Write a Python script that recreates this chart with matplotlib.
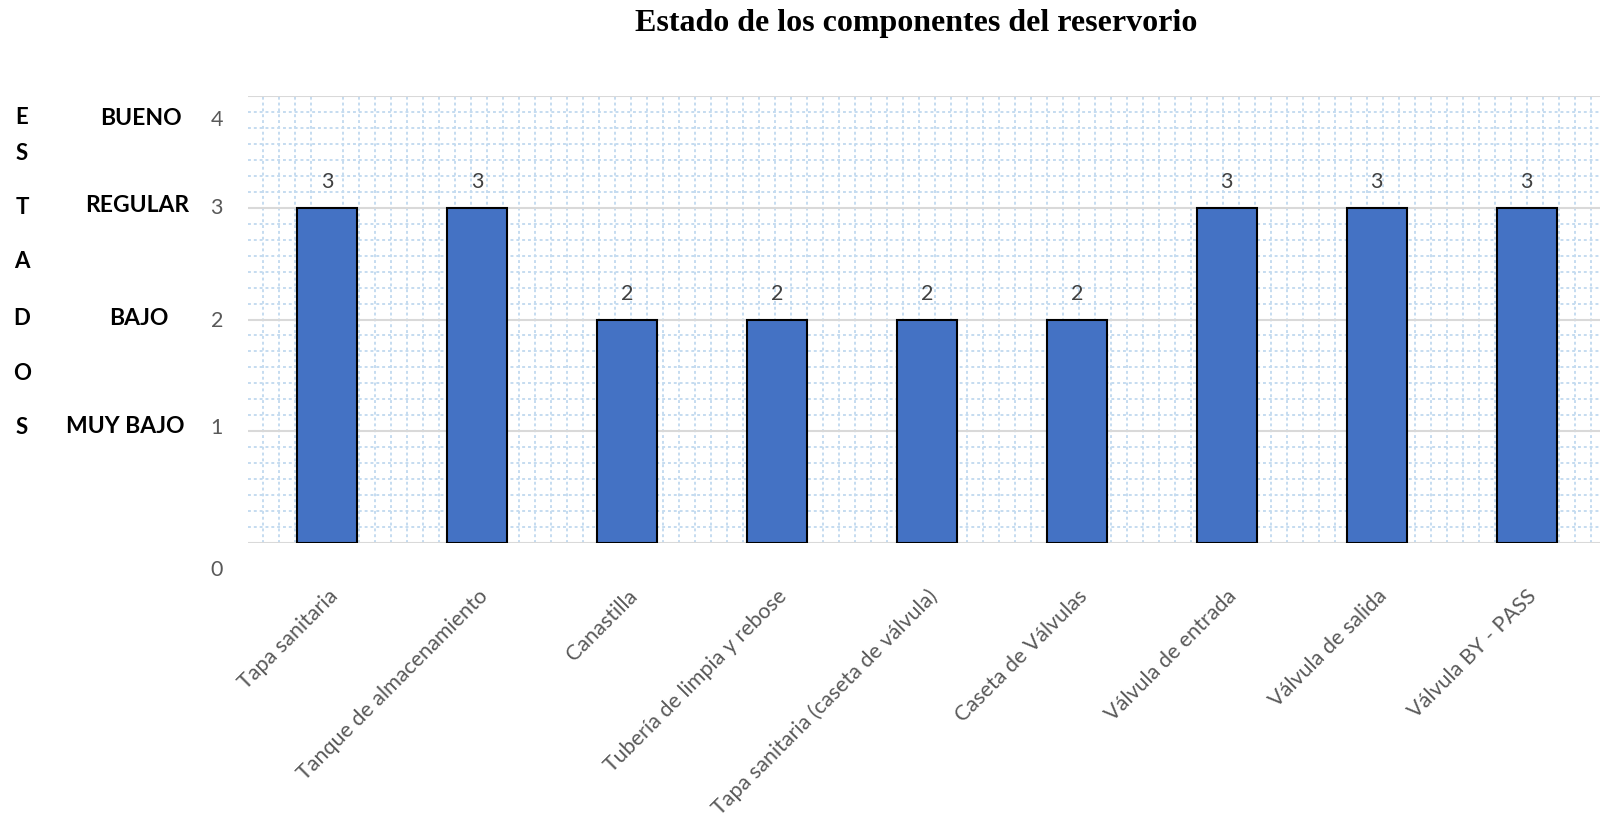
import matplotlib
matplotlib.use("Agg")
import matplotlib.pyplot as plt
import matplotlib.transforms as mtransforms
from matplotlib.ticker import MultipleLocator

# data
componentes = ['Tapa sanitaria', 'Tanque de almacenamiento', 'Canastilla',
               'Tubería de limpia y rebose', 'Tapa sanitaria (caseta de válvula)',
               'Caseta de Válvulas', 'Válvula de entrada', 'Válvula de salida',
               'Válvula BY - PASS']
estado = [3, 3, 2, 2, 2, 2, 3, 3, 3]
niveles = ['MUY BAJO', 'BAJO', 'REGULAR', 'BUENO']
y_ticks = [0, 1, 2, 3, 4]

plt.rcParams['font.family'] = ['Lato', 'DejaVu Sans']

fig = plt.figure(figsize=(16, 8.25), dpi=100)
ax = fig.add_axes([0.155, 0.3418, 0.845, 0.5418])

x = list(range(len(componentes)))
bars = ax.bar(x, estado, width=0.4, color='#4472C4', edgecolor='black',
              linewidth=1.5, zorder=3)
ax.bar_label(bars, padding=11, fontsize=15.5, color='#404040')

ax.set_xlim(-0.53, 8.49)
ax.set_ylim(0, 4)

# grid: gray major lines, light blue dotted pattern behind
ax.set_yticks(y_ticks)
ax.yaxis.set_minor_locator(MultipleLocator(1 / 7))
ax.xaxis.set_minor_locator(MultipleLocator(0.1067))
ax.grid(axis='y', which='major', color='#D9D9D9', linewidth=1.5, zorder=1)
ax.grid(which='minor', color='#C5DCF0', linewidth=1.4,
        linestyle=(0, (1.5, 1.5)), zorder=0)
ax.tick_params(which='both', length=0)
for s in ax.spines.values():
    s.set_visible(False)

ax.set_xticks(x)
ax.set_xticklabels(componentes, rotation=45, ha='right',
                   rotation_mode='anchor', fontsize=15.5, color='#595959')
ax.tick_params(axis='x', pad=31)

# y labels sit a bit off the gridlines in the original (pixels downward)
offsets = [25, -5, -1, -2, 22]
ax.set_yticklabels([str(v) for v in y_ticks], fontsize=15.5, color='#595959')
ax.tick_params(axis='y', pad=18)
for lab, dy in zip(ax.get_yticklabels(), offsets):
    lab.set_transform(lab.get_transform() +
                      mtransforms.ScaledTranslation(0, -dy / 100, fig.dpi_scale_trans))

# state names on the left
name_x = [125, 139, 137, 141]
for i, name in enumerate(niveles):
    tr = mtransforms.blended_transform_factory(fig.transFigure, ax.transData)
    tr = tr + mtransforms.ScaledTranslation(0, -offsets[i + 1] / 100, fig.dpi_scale_trans)
    ax.text(name_x[i] / 1600, i + 1, name, transform=tr, ha='center',
            va='center', fontsize=16.5, fontweight='bold', color='black')

# vertical "ESTADOS"
letter_y = [118, 153, 207, 262, 318, 373, 427]
for ch, yy in zip('ESTADOS', letter_y):
    fig.text(22 / 1600, 1 - yy / 825, ch, ha='center', va='center',
             fontsize=16, fontweight='bold')

fig.text(916 / 1600, 1 - 23 / 825, 'Estado de los componentes del reservorio',
         ha='center', va='center', fontsize=23, fontweight='bold',
         family='Liberation Serif')

fig.savefig('out.png', dpi=100)
